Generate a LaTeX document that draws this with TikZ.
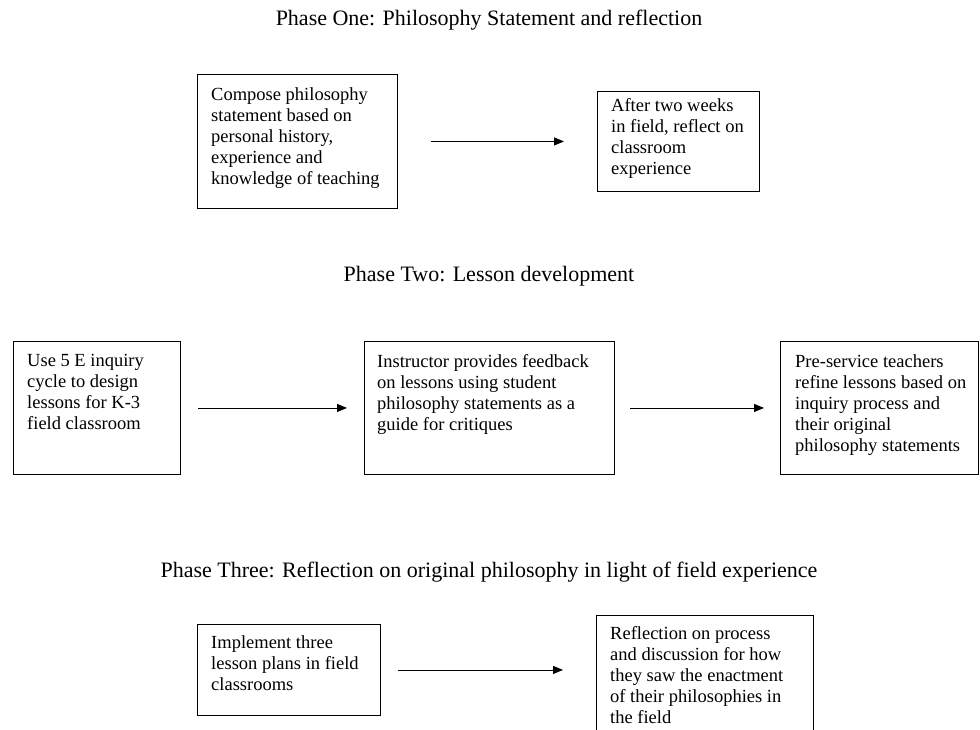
\documentclass[tikz,border=0pt]{standalone}
\usepackage{fontspec}
\setmainfont{Liberation Serif}
\usetikzlibrary{arrows.meta}

\tikzset{
    stepbox/.style = {draw, line width=0.9pt, anchor=north west, inner sep=0pt},
    boxtext/.style = {anchor=north west, align=left, inner sep=0pt, font=\fontsize{18.5}{21}\selectfont},
    phase/.style   = {font=\fontsize{22}{26}\selectfont},
    flow/.style    = {line width=0.9pt, -{Triangle[length=10pt,width=8pt]}}
}

\begin{document}
\begin{tikzpicture}[x=1pt, y=-1pt]
        \clip (0,0) rectangle (980,730);
        \node[phase] (phaseone)   at (489,20)  {Phase One: Philosophy Statement and reflection};
        \node[phase] (phasetwo)   at (489,276) {Phase Two: Lesson development};
        \node[phase] (phasethree) at (489,572) {Phase Three: Reflection on original philosophy in light of field experience};

        \node[stepbox, minimum width=200pt, minimum height=134pt] (compose)   at (197,74)  {};
        \node[stepbox, minimum width=162pt, minimum height=100pt] (reflect)   at (597,91)  {};
        \node[stepbox, minimum width=167pt, minimum height=133pt] (design)    at (13,341)  {};
        \node[stepbox, minimum width=250pt, minimum height=133pt] (feedback)  at (364,341) {};
        \node[stepbox, minimum width=198pt, minimum height=133pt] (refine)    at (780,341) {};
        \node[stepbox, minimum width=183pt, minimum height=91pt]  (implement) at (197,624) {};
        \node[stepbox, minimum width=217pt, minimum height=130pt] (discuss)   at (596,615) {};

        \node[boxtext] (composetext)   at ([xshift=14pt,yshift=-13pt]compose.north west)   {Compose philosophy\\statement based on\\personal history,\\experience and\\knowledge of teaching};
        \node[boxtext] (reflecttext)   at ([xshift=14pt,yshift=-7pt]reflect.north west)    {After two weeks\\in field, reflect on\\classroom\\experience};
        \node[boxtext] (designtext)    at ([xshift=14pt,yshift=-13pt]design.north west)    {Use 5 E inquiry\\cycle to design\\lessons for K-3\\field classroom};
        \node[boxtext] (feedbacktext)  at ([xshift=13pt,yshift=-13pt]feedback.north west)  {Instructor provides feedback\\on lessons using student\\philosophy statements as a\\guide for critiques};
        \node[boxtext] (refinetext)    at ([xshift=15pt,yshift=-13pt]refine.north west)    {Pre-service teachers\\refine lessons based on\\inquiry process and\\their original\\philosophy statements};
        \node[boxtext] (implementtext) at ([xshift=14pt,yshift=-11pt]implement.north west) {Implement three\\lesson plans in field\\classrooms};
        \node[boxtext] (discusstext)   at ([xshift=14pt,yshift=-11pt]discuss.north west)   {Reflection on process\\and discussion for how\\they saw the enactment\\of their philosophies in\\the field};

        \draw[flow, shorten <=33pt, shorten >=33pt] (compose.east) -- (reflect.west);
        \draw[flow, shorten <=17pt, shorten >=17pt] (design.east) -- (feedback.west);
        \draw[flow, shorten <=15pt, shorten >=16pt] (feedback.east) -- (refine.west);
        \draw[flow, shorten <=17pt, shorten >=33pt] (implement.east) -- (implement.east -| discuss.west);
    \end{tikzpicture}
\end{document}
